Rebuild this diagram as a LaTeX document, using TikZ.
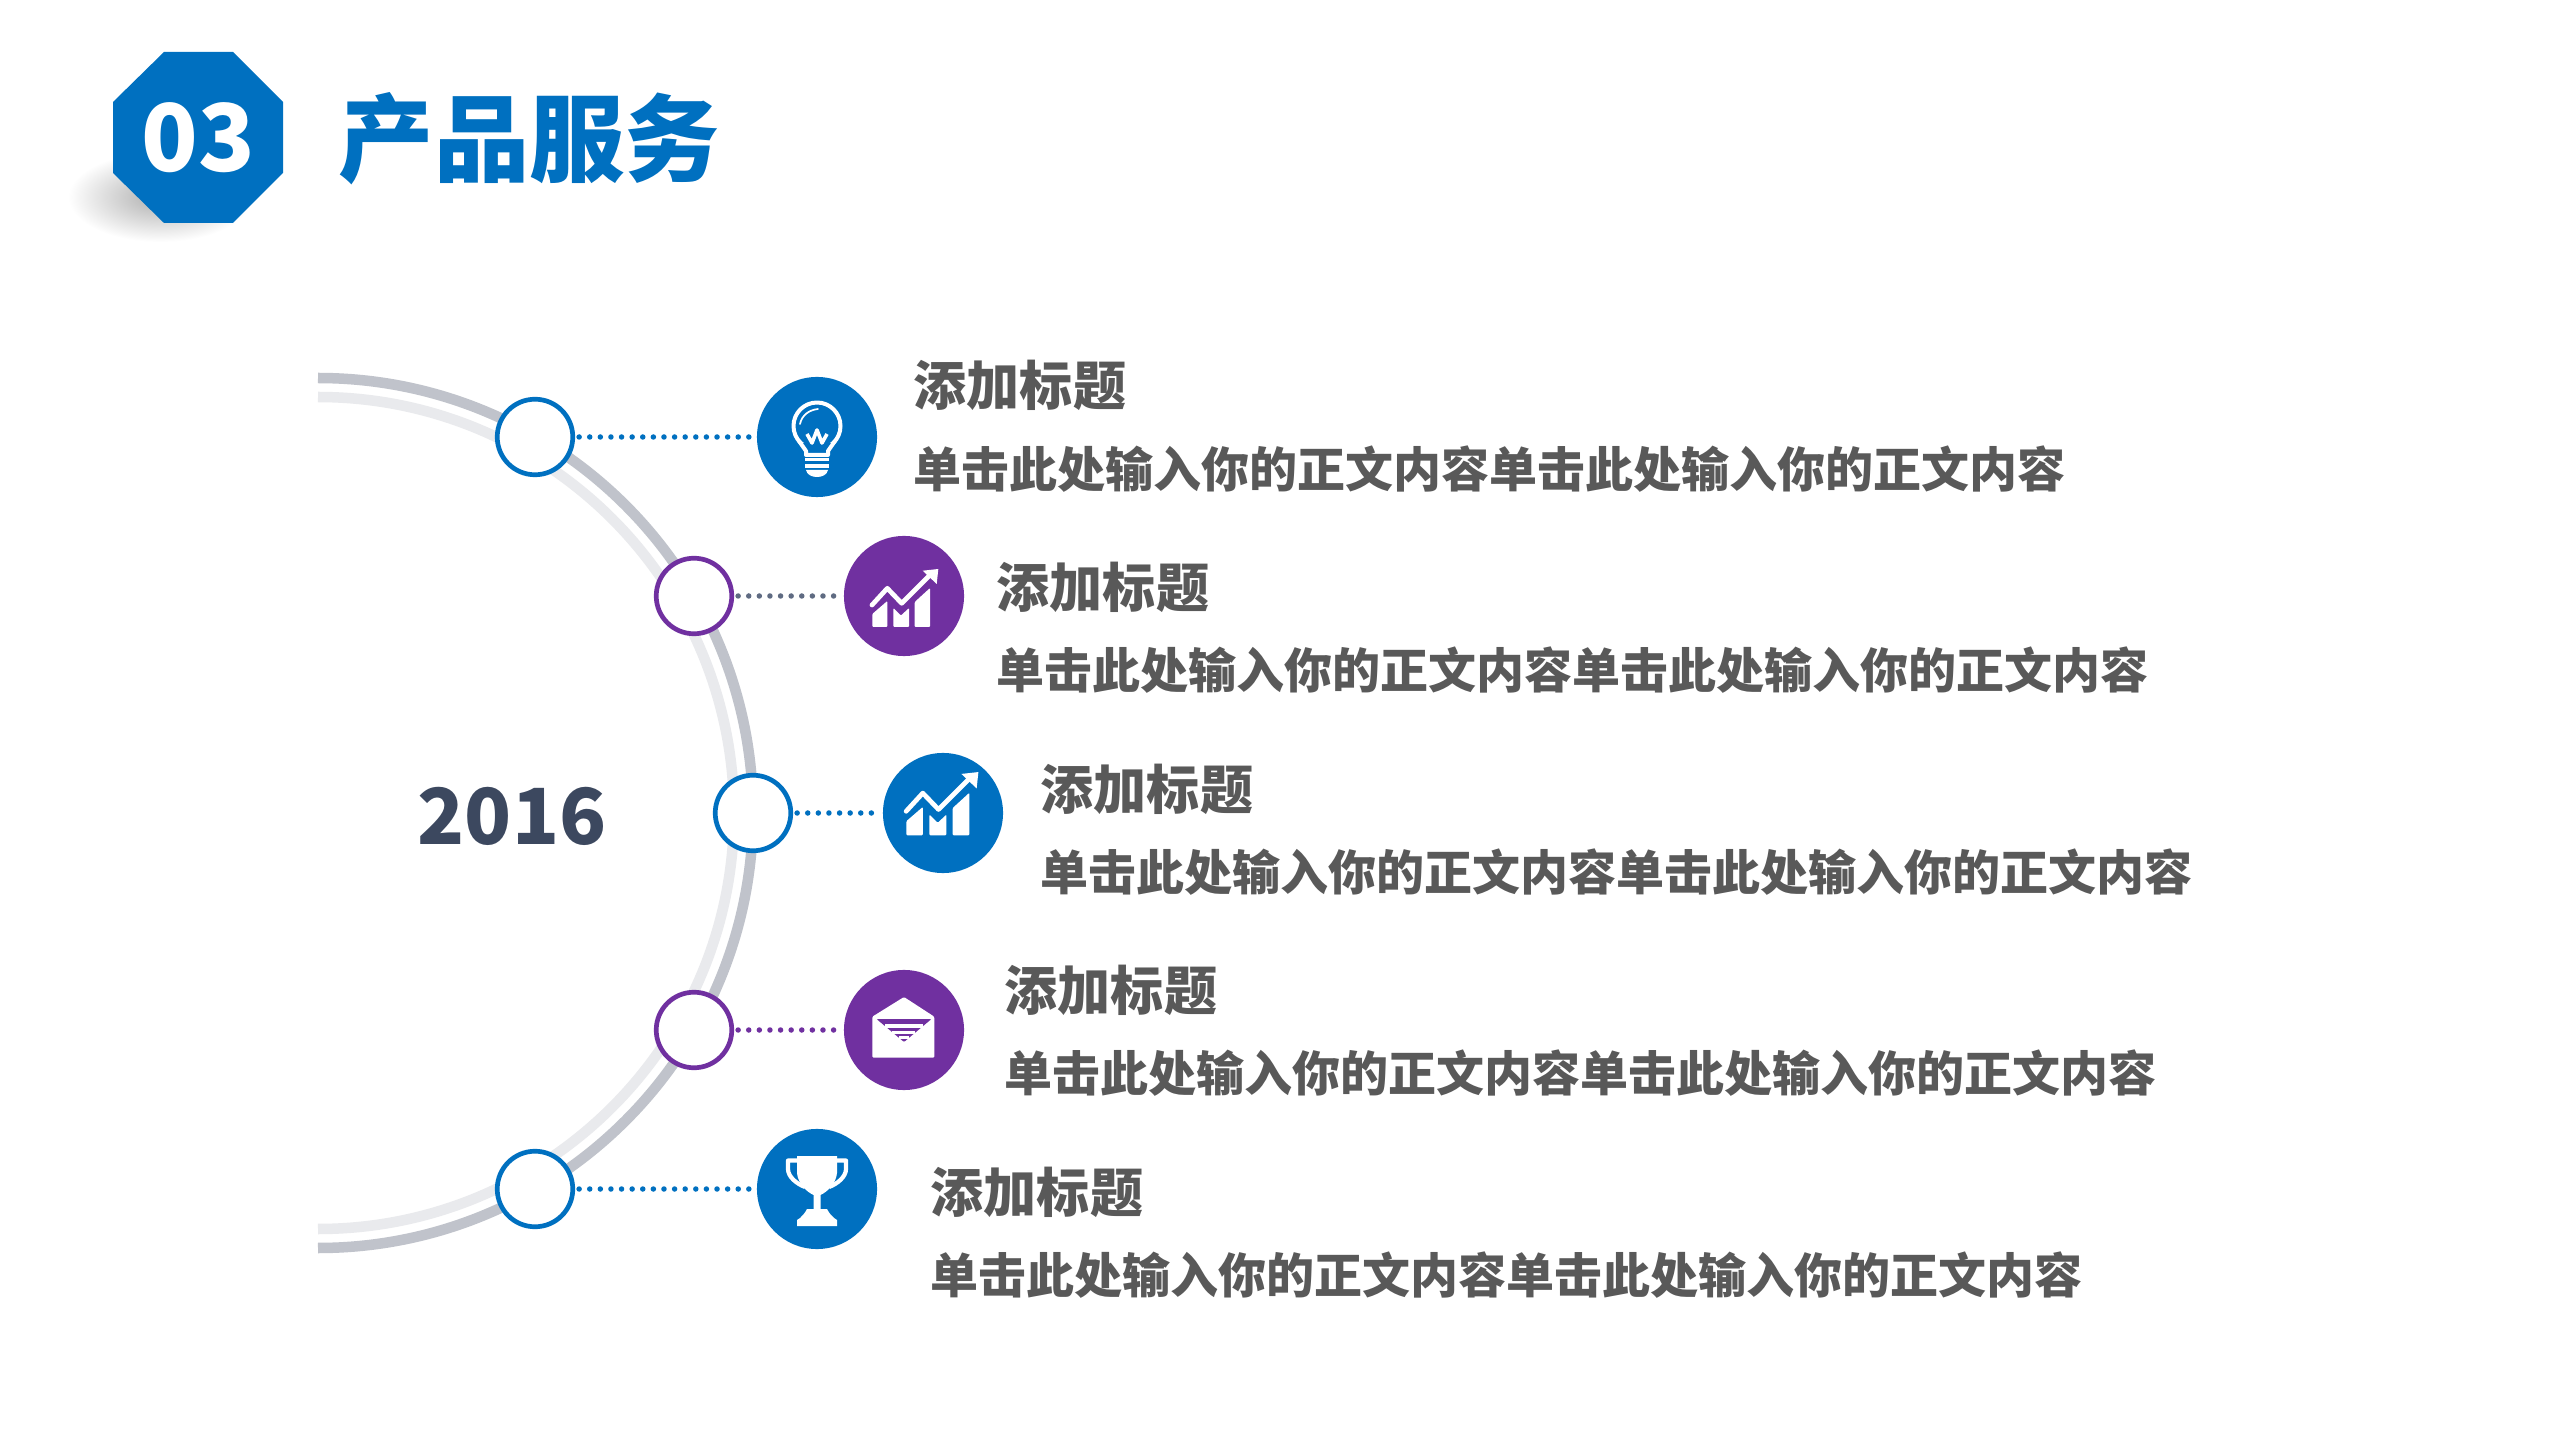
\documentclass[tikz,border=0pt]{standalone}
\usepackage{fontspec}
\usetikzlibrary{shapes.geometric}
\newfontfamily\cjk{Noto Sans CJK SC}
\definecolor{blueicon}{HTML}{0070C0}
\definecolor{purpleicon}{HTML}{7030A0}
\definecolor{bodygrey}{HTML}{595959}
\definecolor{yeargrey}{HTML}{3C485F}
\definecolor{arcdark}{HTML}{C0C3CB}
\definecolor{arclight}{HTML}{E9EAED}
\definecolor{dotslate}{HTML}{5F6B82}
\tikzset{
	ring/.style={circle, draw=#1, fill=white, line width=0.047cm, inner sep=0, minimum size=0.755cm},
	iconball/.style={circle, fill=#1, inner sep=0, minimum size=1.2cm},
	dotline/.style={draw=#1, line width=0.055cm, line cap=round, dash pattern=on 0pt off 0.106cm, shorten >=0.015cm, shorten <=0.04cm},
	headtext/.style={anchor=west, inner sep=0, text=bodygrey, font=\cjk\bfseries\fontsize{15.1}{15.1}\selectfont},
	bodytext/.style={anchor=west, inner sep=0, text=bodygrey, font=\cjk\bfseries\fontsize{13.65}{13.65}\selectfont},
	whiteline/.style={draw=white, line join=round},
}
\def\bulbmark(#1){
	\begin{scope}[shift={(#1)}]
		\draw[whiteline, line width=0.04cm] (0,-11) circle (23.5);
		\fill[blueicon] (-14,6) rectangle (14,22);
		\draw[whiteline, line width=0.04cm] (-18,4) -- (-11,14) -- (-11,18) -- (11,18) -- (11,14) -- (18,4);
		\draw[whiteline, line width=0.017cm, line cap=round] (-17,-13) .. controls (-15,-22) and (-8,-27) .. (1,-28);
		\draw[whiteline, line width=0.036cm] (-10,-3) -- (-5,6) -- (0,-7) -- (5,6) -- (10,-3);
		\fill[white] (-12,21) rectangle (12,24.5);
		\fill[white] (-12,27.5) rectangle (12,31);
		\fill[white] (-11,33) -- (11,33) .. controls (10,38) and (5,40) .. (0,40) .. controls (-5,40) and (-10,38) .. (-11,33) -- cycle;
	\end{scope}
}
\def\chartmark[#1](#2){
	\begin{scope}[shift={(#2)}, #1]
		\fill[white, rounded corners=0.01cm] (-31.7,31) -- (-31.7,18) -- (-16.7,5) -- (-16.7,31) -- cycle;
		\fill[white, rounded corners=0.01cm] (-10.7,31) -- (-10.7,12) -- (-3,19.5) -- (5,12) -- (5,31) -- cycle;
		\fill[white, rounded corners=0.01cm] (10.7,31) -- (10.7,6) -- (26,-8) -- (26,31) -- cycle;
		\draw[whiteline, line width=0.047cm, line cap=round] (-32,9) -- (-16.7,-7.7) -- (-2.3,7.3) -- (25,-20);
		\fill[white] (18.7,-25.3) -- (34.3,-27) -- (32.7,-12) -- cycle;
	\end{scope}
}
\def\mailmark(#1){
	\begin{scope}[shift={(#1)}]
		\fill[white, rounded corners=0.012cm] (-31.7,27.7) -- (-31.7,-13.3) -- (0,-33) -- (30.3,-13.3) -- (30.3,27.7) -- cycle;
		\fill[purpleicon, rounded corners=0.01cm] (-27.5,-11) -- (27.5,-11) -- (0,12) -- cycle;
		\fill[white] (-19,-6) rectangle (19,-2.5);
		\fill[white] (-12,0.5) rectangle (11,3.5);
		\fill[white] (-5,6) rectangle (4.5,8.5);
	\end{scope}
}
\def\cupmark(#1){
	\begin{scope}[shift={(#1)}]
		\draw[whiteline, line width=0.042cm] (-20,-28.5) -- (-29,-28.5) -- (-29,-20) .. controls (-29,-12) and (-20,-5) .. (-12,-2);
		\draw[whiteline, line width=0.042cm] (20,-28.5) -- (29,-28.5) -- (29,-20) .. controls (29,-12) and (20,-5) .. (12,-2);
		\fill[white] (-20,-33) -- (20,-33) -- (20,-16) .. controls (19,-5) and (10,3) .. (3.5,6) -- (3.5,20) -- (10,20) .. controls (12,24) and (14,26) .. (17,29) -- (20,31) -- (20,37) -- (-20,37) -- (-20,31) -- (-17,29) .. controls (-14,26) and (-12,24) .. (-10,20) -- (-3.5,20) -- (-3.5,6) .. controls (-10,3) and (-19,-5) .. (-20,-16) -- cycle;
	\end{scope}
}

\begin{document}
\begin{tikzpicture}[x=0.01cm, y=-0.01cm]
		%%%%% START %%%%%
		\useasboundingbox (0,0) rectangle (2560,1440);
		\fill[white] (0,0) rectangle (2560,1440);
		
		\shade[inner color=black!32, outer color=white] (160,197) ellipse (92 and 45);
		\fill[blueicon] (164,52) -- (233,52) -- (283,102) -- (283,173) -- (233,223) -- (164,223) -- (113,173) -- (113,102) -- cycle;
		\node[inner sep=0, text=white, font=\cjk\bfseries\fontsize{26.5}{26.5}\selectfont] (badge) at (198,138) {03};
		\node[anchor=west, inner sep=0, text=blueicon, font=\cjk\bfseries\fontsize{27.1}{27.1}\selectfont] (heading) at (338,139) {产品服务};
		
		\draw[arcdark, line width=0.105cm] (318,378) arc (-90:90:435);
		\draw[arclight, line width=0.105cm] (318,397) arc (-90:90:416);
		
		\node[inner sep=0, text=yeargrey, font=\cjk\bfseries\fontsize{22}{22}\selectfont] (year) at (512,816) {2016};
		
		\node[ring=blueicon] (ring1) at (535,437) {};
		\node[ring=purpleicon] (ring2) at (694,596) {};
		\node[ring=blueicon] (ring3) at (753,813) {};
		\node[ring=purpleicon] (ring4) at (694,1030) {};
		\node[ring=blueicon] (ring5) at (535,1189) {};
		
		\node[iconball=blueicon] (ball1) at (817,437) {};
		\node[iconball=purpleicon] (ball2) at (904,596) {};
		\node[iconball=blueicon] (ball3) at (943,813) {};
		\node[iconball=purpleicon] (ball4) at (904,1030) {};
		\node[iconball=blueicon] (ball5) at (817,1189) {};
		
		\draw[dotline=blueicon] (ring1) -- (ball1);
		\draw[dotline=dotslate] (ring2) -- (ball2);
		\draw[dotline=blueicon] (ring3) -- (ball3);
		\draw[dotline=purpleicon] (ring4) -- (ball4);
		\draw[dotline=blueicon] (ring5) -- (ball5);
		
		\bulbmark(ball1);
		\chartmark[scale=1](ball2);
		\chartmark[shift={(-2,-11.5)}, scale=1.09](ball3);
		\mailmark(ball4);
		\cupmark(ball5);
		
		\node[headtext] (head1) at (913,385) {添加标题};
		\node[bodytext] (body1) at (913,469) {单击此处输入你的正文内容单击此处输入你的正文内容};
		\node[headtext] (head2) at (996,587) {添加标题};
		\node[bodytext] (body2) at (996,670) {单击此处输入你的正文内容单击此处输入你的正文内容};
		\node[headtext] (head3) at (1040,789) {添加标题};
		\node[bodytext] (body3) at (1040,872) {单击此处输入你的正文内容单击此处输入你的正文内容};
		\node[headtext] (head4) at (1004,990) {添加标题};
		\node[bodytext] (body4) at (1004,1073) {单击此处输入你的正文内容单击此处输入你的正文内容};
		\node[headtext] (head5) at (930,1192) {添加标题};
		\node[bodytext] (body5) at (930,1275) {单击此处输入你的正文内容单击此处输入你的正文内容};
		
		%%%%% END %%%%%
	\end{tikzpicture}
\end{document}
